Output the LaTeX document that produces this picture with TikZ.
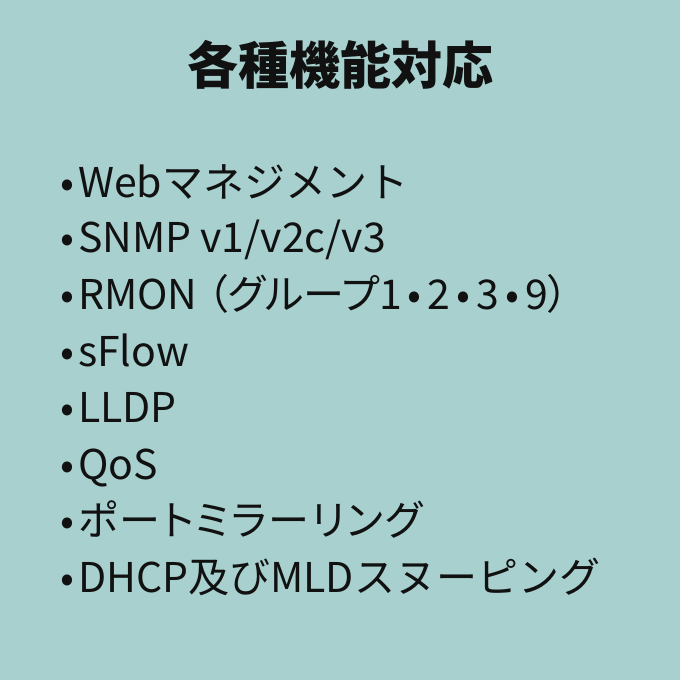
\documentclass[tikz,border=0pt]{standalone}
\usepackage{fontspec}
\setmainfont{Noto Sans CJK JP}
\newfontfamily\jpp{Noto Sans CJK JP}[RawFeature=+palt]
\newfontfamily\jpl{Noto Sans CJK JP}[RawFeature=+palt, LetterSpace=5]
\definecolor{bg}{RGB}{167,208,206}
\definecolor{ink}{RGB}{17,17,17}
\newcommand{\bul}{•\kern4pt}
\newcommand{\mdot}{\kern6pt•\kern6pt}
\begin{document}
\begin{tikzpicture}[x=1pt,y=-1pt,
  item/.style={anchor=base west, inner sep=0pt, text=ink, font=\fontsize{41}{41}\selectfont},
  titletext/.style={anchor=base, inner sep=0pt, text=ink, font=\fontsize{51}{51}\selectfont\bfseries}]
\fill[bg] (0,0) rectangle (680,680);
\useasboundingbox (0,0) rectangle (680,680);
\node[titletext] (t) at (340,84) {各種機能対応};
\node[item] (i1) at (60,197) {\bul Webマネジメント};
\node[item] (i2) at (60,252) {\bul SNMP v1/v2c/v3};
\node[item] (i3) at (60,309) {\jpp\bul RMON\kern10pt（グループ1\mdot 2\mdot 3\mdot 9）};
\node[item] (i4) at (60,366) {\bul sFlow};
\node[item] (i5) at (60,422) {\bul LLDP};
\node[item] (i6) at (60,479) {\bul QoS};
\node[item] (i7) at (60,535) {\bul{\jpl ポートミラーリング}};
\node[item] (i8) at (60,592) {\bul DHCP及びMLDスヌーピング};
\end{tikzpicture}
\end{document}
